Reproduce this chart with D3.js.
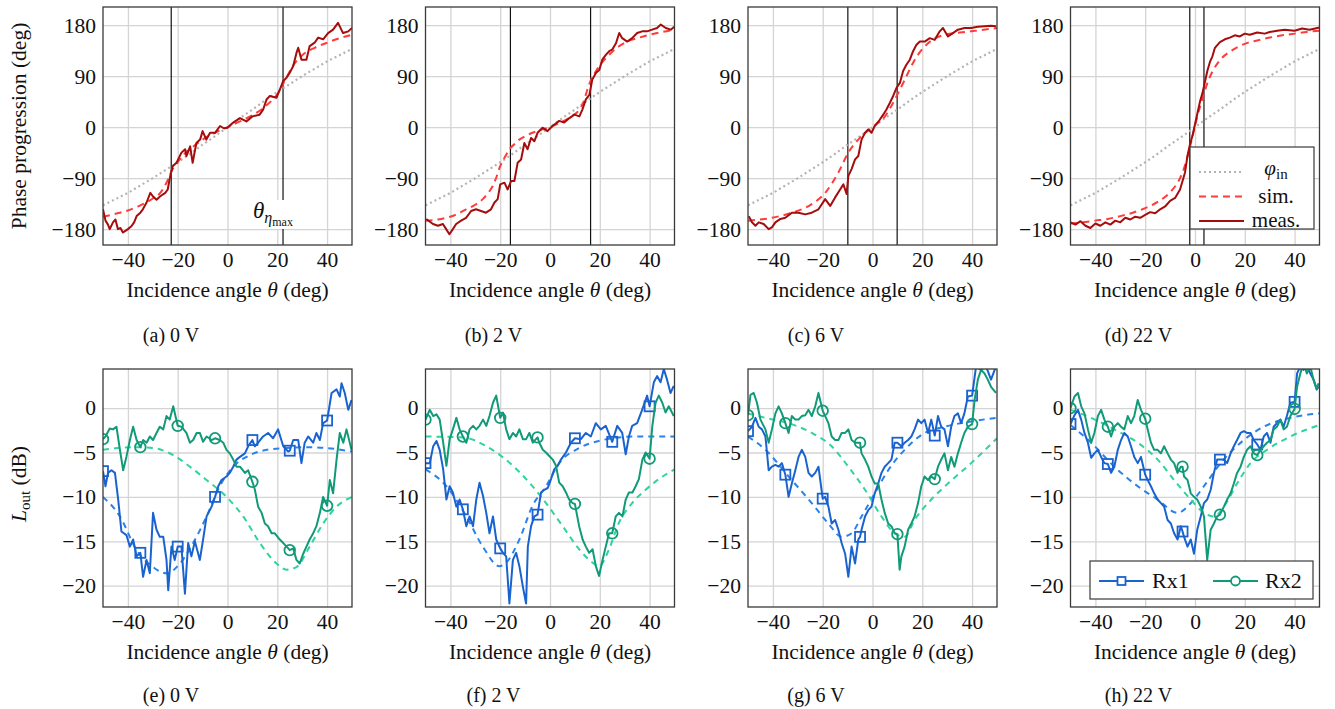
<!DOCTYPE html>
<html><head><meta charset="utf-8">
<script src="https://cdn.jsdelivr.net/npm/d3@7"></script>
<style>
body{margin:0;background:#fff}
svg{display:block}
</style>
</head><body>
<svg id="c" width="1335" height="709"></svg>
<script>
// ---------- axis ticks / labels ----------
const thetaTicks = [-40, -20, 0, 20, 40];
const phaseTicks = [-180, -90, 0, 90, 180];
const loutTicks = [-20, -15, -10, -5, 0];
const topLetters = ["(a)", "(b)", "(c)", "(d)"];
const bottomLetters = ["(e)", "(f)", "(g)", "(h)"];
const voltages = ["0 V", "2 V", "6 V", "22 V"];
const thetaEtaMax = [[-22.6, 22.3], [-15.9, 16.3], [-9.9, 9.9], [-2.1, 3.6]];

// ---------- top row: phase progression ----------
const phiInTheta = [-50,-45,-40,-35,-30,-25,-20,-15,-10,-5,0,5,10,15,20,25,30,35,40,45,50];
const phiIn = [-138,-127,-116,-103,-90,-76,-62,-47,-31,-16,0,16,31,47,62,76,90,103,116,127,138];

const simA = [[-50,-158],[-45,-153],[-40,-147],[-35,-138],[-30,-126],[-27,-116],[-24.5,-98],[-22,-74],[-20,-62],[-17,-46],[-14,-35],[-10,-22],[-5,-10],[0,0],[5,10],[10,21],[15,36],[18,48],[20,58],[22,74],[24,90],[26,106],[28,118],[30,127],[35,140],[40,149],[45,157],[50,163]];
const measA = [[-50,-145],[-49,-165],[-48,-172],[-47.3,-180],[-46,-168],[-45,-163],[-44,-180],[-43,-178],[-42,-186],[-41,-183],[-40,-180],[-38.6,-175],[-37.5,-168],[-36.5,-157],[-35,-151],[-34,-145],[-32.5,-133],[-31,-116],[-30,-122],[-28.5,-128],[-27,-122],[-25,-116],[-24,-110],[-23,-86],[-22,-69],[-20.5,-63],[-18.5,-45],[-17,-39],[-16.5,-51],[-15,-34],[-14,-63],[-12.5,-28],[-11,-22],[-10,-7],[-8.5,-22],[-7,-10],[-5,-10],[-3,2],[-1.5,-2],[0,-1],[2.3,8],[5,16],[7.6,10],[10,19],[12.9,22],[14.3,31],[15.7,49],[17,55],[19.7,52],[21,66],[22.3,81],[23.7,87],[25,96],[26.4,108],[27.7,131],[28.4,140],[29.7,119],[31.7,119],[33,143],[35,149],[36.4,158],[38.4,155],[40.4,166],[42.4,172],[44.4,184],[46.4,166],[48.5,169],[50,175]];

const simB = [[-50,-165],[-45,-163],[-41.7,-160],[-37,-153],[-33.7,-145],[-30,-137],[-27,-127],[-25,-117],[-23,-104],[-21.5,-88],[-20,-69],[-18,-52],[-16.3,-39],[-14,-29],[-12.3,-22],[-10,-16],[-7,-10],[-3,-4],[0,0],[3,6],[6.4,13],[9,20],[11.8,31],[13.5,45],[15,66],[16.5,84],[18.5,99],[20.5,112],[22.5,122],[25,133],[27.8,143],[31,151],[35.8,158],[40,163],[45,168],[50,172]];
const measB = [[-49.7,-162],[-47,-171],[-45,-174],[-43,-171],[-41.7,-180],[-40.4,-189],[-39,-180],[-37.7,-171],[-35.7,-165],[-33.7,-160],[-31.7,-148],[-29.7,-145],[-27.7,-148],[-25.7,-151],[-23.7,-145],[-22.3,-133],[-21,-127],[-20,-101],[-18.3,-98],[-17,-110],[-15.6,-95],[-14.3,-95],[-13,-63],[-11.6,-57],[-10.3,-28],[-9,-39],[-7.6,-19],[-6.3,-25],[-5,-10],[-3,-1],[-1,-7],[1,2],[3.7,11],[5.7,8],[7.8,16],[9.8,22],[11.8,19],[13,31],[14.4,49],[15.8,57],[17,84],[18.5,96],[19.8,101],[21,119],[22.5,128],[23.8,134],[25,137],[26.5,148],[27.8,166],[29,157],[31,151],[33,157],[35,166],[37,169],[39,169],[41,172],[43,175],[44.5,181],[46.5,175],[48.5,172],[49.9,177]];

const simC = [[-50,-165],[-40.4,-160],[-32.4,-151],[-24.4,-136],[-19,-116],[-13.7,-80],[-9.7,-45],[-4.4,-16],[0,0],[5,19],[9,49],[13,84],[17,119],[22.3,148],[29,163],[39.6,169],[50,175]];
const measC = [[-49.7,-157],[-48.4,-168],[-47,-174],[-45.7,-168],[-43.7,-171],[-41.7,-180],[-40.4,-177],[-39,-168],[-37,-162],[-35,-160],[-32.4,-151],[-29.7,-151],[-27,-154],[-24.4,-151],[-21.7,-145],[-19,-127],[-17,-139],[-15,-124],[-13,-110],[-11.7,-101],[-10.4,-118],[-9.7,-86],[-8.4,-74],[-7,-57],[-5.7,-51],[-4.4,-22],[-3,-10],[-1.7,-4],[-0.4,-10],[0.9,2],[2.9,13],[4.3,22],[5.6,31],[7,43],[8.3,55],[9.6,69],[11,78],[12.3,99],[13.6,110],[15,119],[16.3,134],[17.6,145],[19,151],[21,151],[23,157],[25,154],[27,169],[28.3,175],[30.3,160],[32.3,166],[34.3,172],[37,175],[39.6,175],[42.3,177],[45,178],[47.6,179],[49.6,178]];

const simD = [[-50,-170],[-45,-168],[-40,-165],[-35,-162],[-30,-157],[-25,-151],[-20,-143],[-15,-132],[-10,-115],[-7,-98],[-5,-80],[-3,-52],[-1,-16],[0,2],[1,20],[3,50],[5,78],[7,98],[10,118],[15,136],[20,147],[25,153],[30,158],[35,162],[40,165],[45,168],[50,170]];
const measD = [[-50,-168],[-48,-172],[-46,-166],[-44,-174],[-42,-178],[-40,-170],[-38,-174],[-36,-168],[-34,-172],[-32,-165],[-30,-168],[-28,-160],[-26,-163],[-24,-158],[-22,-160],[-20,-155],[-18,-150],[-16,-152],[-14,-145],[-12,-140],[-10,-130],[-8,-125],[-6,-110],[-4,-80],[-3,-50],[-2,-30],[-1,-15],[0,5],[1,25],[2,45],[3,60],[4,80],[5,100],[6,115],[7,125],[8,140],[10,150],[12,155],[14,158],[16,162],[18,160],[20,165],[22,163],[25,167],[28,165],[30,168],[33,170],[36,172],[40,170],[43,174],[46,172],[50,176]];

// ---------- bottom row: L_out (dB) ----------
const markTheta = [-50, -35, -20, -5, 10, 25, 40];
const rx1MarkE = [-7.1,-16.3,-15.6,-10,-3.6,-4.8,-1.4];
const rx2MarkE = [-3.5,-4.4,-2,-3.4,-8.3,-16,-11];
const rx1MarkF = [-6.2,-11.4,-15.8,-12,-3.4,-3.8,0.2];
const rx2MarkF = [-1.3,-3.2,-1.1,-3.3,-10.8,-14.1,-5.7];
const rx1MarkG = [-2.6,-7.5,-10.2,-14.5,-3.9,-3.1,1.4];
const rx2MarkG = [-0.8,-1.7,-0.3,-3.9,-14.2,-8,-1.8];
const rx1MarkH = [-1.8,-6.3,-7.5,-13.9,-5.8,-4.1,0.7];
const rx2MarkH = [0,-2.1,-1.2,-6.6,-12,-5.3,-0.1];

const rx1MeasE = [[-49,-8.8],[-48,-7.3],[-46.6,-7],[-45.2,-7.3],[-43.9,-10.3],[-42.6,-13.9],[-40.6,-14.3],[-39.2,-15.6],[-37.9,-14.8],[-36.5,-16.7],[-33.9,-19],[-32.5,-17.1],[-31.2,-18.6],[-29.9,-11.8],[-28.5,-13.7],[-27.2,-14.5],[-25.8,-14.5],[-24.5,-17.1],[-23.8,-20.5],[-22.5,-15.6],[-21.2,-17.1],[-18.5,-15.6],[-17.1,-20.9],[-15.8,-15.2],[-14.5,-16.7],[-13.1,-15],[-11.1,-17.1],[-9.8,-14.8],[-8.4,-12.2],[-6.4,-11.1],[-3.7,-8.8],[-2.4,-8.1],[-0.4,-7.7],[0.9,-7.3],[2.3,-6.6],[3.6,-5.8],[5,-5.5],[7,-5.1],[8.3,-4.3],[11,-4.3],[12.3,-3.9],[14.3,-3.2],[16.3,-2.8],[18.3,-3.4],[20.3,-2.4],[22.4,-4.3],[24.4,-4.9],[26.4,-3.6],[28.4,-3.6],[29.7,-6.2],[31,-3.9],[32.4,-3.2],[34.4,-3.9],[35.7,-2.8],[37.1,-3.6],[38.4,-1.7],[41.8,1.7],[43.8,2.1],[45.1,1.3],[45.8,2.8],[47.1,1.7],[48.5,-0.2],[49.8,0.9]];
const rx1SimE = [[-50,-10],[-43.2,-12.2],[-36.5,-16],[-29.9,-17.9],[-24.5,-18.6],[-19.1,-17.5],[-13.8,-15.2],[-8.4,-12.2],[-3.1,-8.8],[2.3,-6.6],[9,-5.3],[15.7,-4.7],[23.7,-4.5],[31.7,-4.4],[39.8,-4.5],[50,-4.9]];
const rx2MeasE = [[-49,-3.2],[-47.3,-2.3],[-46,-2.4],[-44.6,-2.1],[-43.2,-4.7],[-41.9,-7],[-40.6,-5.5],[-39.2,-3.6],[-37.9,-2.1],[-36.5,-3.6],[-33.9,-3.6],[-32.5,-3.9],[-31.2,-3.2],[-29.9,-3.6],[-28.5,-2.8],[-27.2,-2.1],[-25.8,-2.4],[-24.5,-0.9],[-23.2,-1.3],[-21.8,0.2],[-18.5,-2.1],[-16.5,-2.8],[-15.1,-3.9],[-13.8,-3.6],[-12.4,-2.8],[-11.1,-2.8],[-9.8,-3.8],[-8.4,-3.2],[-6.4,-3.6],[-3.1,-3.6],[-1.7,-3.9],[-0.4,-4.7],[0.9,-5.1],[2.3,-5.8],[3.6,-6.6],[5,-6.6],[7,-7.3],[8.3,-7],[11,-9.2],[12.3,-11.1],[13.7,-11.8],[15,-13],[16.3,-13.3],[17.7,-14.1],[19,-14.1],[21,-14.8],[22.4,-15.2],[24.4,-15.8],[26.4,-15.8],[27.7,-17.1],[29,-17.5],[30.4,-16.4],[31.7,-15.6],[33,-14.8],[34.4,-14.1],[35.7,-13.3],[37.1,-11.8],[38.4,-10],[41.1,-8.1],[42.4,-9.6],[43.8,-5.8],[45.1,-2.8],[46.5,-3.9],[47.8,-2.4],[49.8,-4.7]];
const rx2SimE = [[-50,-4.7],[-37.9,-4.4],[-29.9,-4.5],[-21.8,-5.3],[-15.1,-6.6],[-8.4,-8.1],[-0.4,-10],[6.3,-12.2],[13,-15.2],[19.7,-17.5],[23.7,-18.2],[27.7,-17.9],[33,-15.6],[38.4,-13],[43.8,-11.1],[50,-10]];

const rx1MeasF = [[-49.6,-4.7],[-48.3,-6.2],[-46.9,-4.3],[-45.6,-3.7],[-44.3,-4.7],[-42.9,-6.9],[-41.6,-10.3],[-40.3,-8.8],[-39,-9.5],[-37.6,-11.1],[-36.3,-10.3],[-33.6,-13.3],[-32.3,-12.2],[-30.9,-13.3],[-29.6,-10.3],[-28.3,-8.4],[-26.9,-9.9],[-25.6,-11.8],[-24.3,-14.1],[-22.9,-12.2],[-21.6,-14.8],[-18.9,-16.3],[-17.6,-16.7],[-16.3,-22],[-14.9,-17.1],[-13.6,-16.3],[-12.3,-17.8],[-10.9,-20.1],[-9.6,-22],[-8.9,-15.6],[-7.6,-13.3],[-6.3,-12.2],[-3.6,-9.5],[-2.3,-9.2],[-0.9,-9],[0.4,-8],[1.7,-6.9],[3.1,-6.5],[4.4,-5.8],[6.4,-5],[8.4,-3.9],[12.4,-3.5],[14.4,-2.8],[16.4,-3.2],[18.4,-1.7],[20.4,-2.4],[22.4,-2],[27,-2],[29,-2.8],[30.4,-5.2],[31.7,-3.2],[33,-2],[35,-1.7],[37,-0.2],[39,1.4],[41.7,2.9],[43,3.6],[44.4,2.9],[45.7,4.4],[47,3.2],[48.4,1.7],[49.7,2.5]];
const rx1SimF = [[-50,-6.9],[-41.6,-8.8],[-33.6,-12.2],[-27,-15.6],[-20.3,-17.8],[-17.6,-17.4],[-12.3,-14.8],[-7,-11],[-1.6,-8.8],[3.7,-6.2],[11.7,-4.5],[19.7,-3.7],[27.7,-3.3],[35.7,-3.2],[50,-3.2]];
const rx2MeasF = [[-48.3,-0.2],[-46.9,-0.9],[-45.6,-0.7],[-44.3,-1.3],[-42.9,-3.9],[-41.6,-6.5],[-40.3,-3.5],[-39,-2.4],[-37.6,-1.1],[-36.3,-2.4],[-33.6,-3.9],[-32.3,-2.4],[-30.9,-2],[-29.6,-2.4],[-28.3,-2],[-26.9,-1.3],[-25.6,-2],[-24.3,-0.9],[-22.9,0.6],[-21.6,1.4],[-18.9,-0.5],[-17.6,-2.4],[-16.3,-3.5],[-14.9,-2.8],[-13.6,-3.2],[-12.3,-2.4],[-10.9,-3.5],[-9.6,-3.5],[-8.3,-2.8],[-6.9,-3.9],[-4.3,-3.9],[-2.9,-4.7],[-1.6,-5],[-0.3,-5.4],[1.1,-5.8],[2.4,-6.5],[3.7,-8.4],[5.1,-8.8],[6.4,-9.5],[7.7,-10.3],[9.1,-10.7],[11.7,-13.3],[13.1,-14.8],[14.4,-15.6],[15.7,-16.3],[17.1,-15.9],[18.4,-17.8],[19.7,-18.9],[21.1,-17.1],[22.4,-15.6],[23.7,-14.1],[26.4,-12.2],[27.7,-11.8],[29.1,-12.2],[30.4,-10.3],[31.7,-9.5],[33.1,-9.5],[34.4,-8.8],[35.7,-8],[37.1,-5.8],[38.4,-5],[41.1,-2],[42.4,0.6],[43.7,1.4],[45.1,0.6],[46.4,-0.5],[47.7,0.2],[49.7,-0.9]];
const rx2SimF = [[-50,-3.2],[-34.9,-3.3],[-25.6,-4.3],[-14.9,-6.5],[-8.3,-8.4],[-1.6,-10.7],[5.1,-13.3],[11.7,-15.9],[17.1,-17.4],[19.7,-17.8],[23.7,-15.9],[27.7,-12.9],[33,-10.7],[38.4,-9.2],[43.7,-8],[50,-6.9]];

const rx1MeasG = [[-48.4,-2.1],[-47,-1.1],[-45.7,-2.1],[-44.4,-2.4],[-43,-3.2],[-41.7,-7],[-40.4,-6.6],[-39,-6.4],[-37.7,-6.6],[-36.4,-6.2],[-33.7,-10],[-32.4,-8.5],[-31,-7],[-29.7,-5.5],[-28.4,-4.7],[-27,-5.5],[-25.7,-7.3],[-24.4,-7.7],[-23,-7.3],[-21.7,-6.6],[-19,-10],[-17.7,-11.1],[-16.4,-13],[-15,-12.6],[-13.7,-13.7],[-12.4,-15.2],[-11,-16.4],[-9.7,-19],[-8.4,-15.6],[-7,-17.5],[-5.7,-14.8],[-4.4,-13.7],[-3,-12.2],[-1.7,-11.5],[-0.4,-11.1],[0.9,-9.6],[2.3,-8.5],[3.6,-7.3],[4.9,-6.6],[6.3,-6.2],[7.6,-5.8],[8.9,-3.9],[11.6,-4.3],[12.9,-3.9],[14.3,-3.6],[15.6,-3.2],[16.9,-2.4],[18.3,-1.3],[19.6,-1.7],[20.9,-1.3],[22.3,-2.8],[23.6,-1.3],[26.3,-0.9],[27.6,-2.1],[28.9,-2.4],[30.3,-4.3],[31.6,-2.1],[32.9,-0.9],[34.3,-0.6],[35.6,-1.7],[36.9,-0.6],[38.3,1.3],[41.6,4.7],[43.6,4.3],[45.6,4.7],[47.6,3.2],[49.6,4.7]];
const rx1SimG = [[-50,-3.2],[-43,-4.7],[-33.7,-7.7],[-24.4,-10.7],[-17.7,-13],[-12.4,-14.5],[-8.4,-14.1],[-4.4,-12.2],[0.9,-9.6],[6.3,-7],[12.9,-4.7],[20.9,-2.8],[28.9,-2.1],[39.6,-1.5],[50,-1.1]];
const rx2MeasG = [[-49,1.5],[-47.7,1.7],[-46.4,0.6],[-45,-1.3],[-43,-2.4],[-41.7,-3.9],[-40.4,-2.4],[-39,-0.6],[-37.7,0.2],[-36.4,-0.6],[-33.7,-2.8],[-32.4,-0.9],[-31,-1.3],[-29.7,-1.3],[-28.4,-0.9],[-27,-0.8],[-25.7,-0.2],[-24.4,-0.9],[-23,0.2],[-21.7,1.7],[-19,-0.9],[-17.7,-1.7],[-16.4,-3.2],[-15,-3.6],[-13.7,-3.6],[-12.4,-2.8],[-11,-2.8],[-9.7,-2.4],[-8.4,-3.6],[-7,-3.9],[-4.4,-5.1],[-3,-5.8],[-1.7,-6.6],[-0.4,-7.7],[0.9,-8.5],[2.3,-8.5],[3.6,-10.3],[4.9,-11.8],[6.3,-13],[7.6,-13.3],[8.9,-14.1],[10.9,-18.2],[11.6,-16.7],[12.9,-15.6],[14.3,-13.7],[15.6,-13],[16.9,-12.2],[18.3,-10.7],[19.6,-8.8],[20.9,-7.7],[22.3,-8.1],[23.6,-7.7],[26.3,-6.6],[27.6,-5.8],[28.9,-5.1],[30.3,-7],[31.6,-5.5],[32.9,-6.6],[34.3,-5.1],[35.6,-3.9],[36.9,-2.8],[38.3,-2.1],[41,0.9],[42.3,3.2],[43.6,4.3],[45,3.9],[46.3,3.2],[47.6,2.4],[49.6,1.7]];
const rx2SimG = [[-50,-0.6],[-43,-1.1],[-33.7,-1.7],[-24.4,-2.8],[-16.4,-4.3],[-9.7,-6.6],[-3,-9.2],[3.6,-12.2],[8.9,-14.1],[12.9,-14.5],[16.9,-12.6],[23.6,-10.3],[30.3,-8.5],[39.6,-6.2],[50,-3.4]];

const rx1MeasH = [[-48.4,-0.8],[-47,-0.2],[-45.7,-1.3],[-44.4,-2.8],[-43,-3.9],[-41.7,-5.6],[-40.4,-5.1],[-39,-4.7],[-37.7,-5.5],[-36.4,-6.2],[-33.7,-7.3],[-32.4,-6.6],[-31,-4.7],[-29.7,-3.6],[-28.4,-2.8],[-27,-3.2],[-25.7,-4.3],[-24.4,-5.5],[-23,-6.2],[-21.7,-5.5],[-19,-8.1],[-17.7,-8.8],[-16.4,-9.6],[-15,-10.3],[-13.7,-10.7],[-12.4,-11.1],[-11,-12.6],[-9.7,-13],[-8.4,-14.1],[-7,-14.8],[-5.7,-13.3],[-4.4,-14.5],[-3,-15.6],[-1.7,-14.8],[-0.4,-16.4],[0.9,-13.7],[2.3,-12.2],[3.6,-10.7],[4.9,-10.3],[6.3,-9.2],[7.6,-7.3],[8.9,-5.8],[11.6,-5.8],[12.9,-6.2],[14.3,-5.1],[15.6,-4.3],[16.9,-3.6],[18.3,-2.8],[19.6,-2.6],[20.9,-2.8],[22.3,-2.8],[23.6,-3.6],[26.3,-4.7],[27.6,-3.2],[28.9,-2.8],[30.3,-3.9],[31.6,-2.1],[32.9,-1.7],[34.3,-1.3],[35.6,-2.1],[36.9,-0.9],[38.3,0.6],[41,3.9],[42.3,4.7],[43.6,4.3],[44.9,4.7],[46.3,3.9],[47.6,3.2],[48.9,2.1],[49.6,2.4]];
const rx1SimH = [[-50,-1.9],[-41.7,-3.9],[-32.4,-6.6],[-23,-8.8],[-15,-10.3],[-7,-11.8],[-1.7,-10.7],[3.6,-8.8],[10.3,-6.2],[19.6,-3.6],[27.6,-2.1],[38.3,-1.1],[50,-0.6]];
const rx2MeasH = [[-48.4,1.3],[-47,1.7],[-45.7,0.2],[-44.4,-0.6],[-43,-2.4],[-41.7,-3.9],[-40.4,-2.8],[-39,-0.9],[-37.7,-0.2],[-36.4,-1.3],[-33.7,-3.2],[-32.4,-2.1],[-31,-1.7],[-29.7,-2.1],[-28.4,-2.4],[-27,-0.9],[-25.7,-1.7],[-24.4,-0.9],[-23,0.9],[-21.7,-0.2],[-19,-2.4],[-17.7,-3.9],[-16.4,-4.7],[-15,-4.7],[-13.7,-5.1],[-12.4,-4.3],[-11,-5.1],[-9.7,-5.8],[-8.4,-6.2],[-7,-7.3],[-5.7,-6.6],[-4.4,-7.7],[-3,-8.1],[-1.7,-9.6],[-0.4,-10],[0.9,-10.3],[2.3,-11.1],[3.6,-12.2],[4.9,-17.1],[6.3,-13.7],[7.6,-13],[8.9,-12.2],[11.6,-11.1],[12.9,-10.3],[14.3,-9.6],[15.6,-8.5],[16.9,-7.3],[18.3,-6.6],[19.6,-5.5],[20.9,-4.7],[22.3,-4.3],[23.6,-5.1],[26.3,-4.7],[27.6,-4.3],[28.9,-3.9],[30.3,-3.6],[31.6,-2.4],[32.9,-2.1],[34.3,-1.3],[35.6,-2.4],[36.9,-2.1],[38.3,-0.9],[41,2.4],[42.3,3.9],[43.6,5.1],[44.9,3.9],[46.3,4.7],[47.6,3.2],[48.9,2.1],[49.6,2.8]];
const rx2SimH = [[-50,-0.2],[-41.7,-1.1],[-32.4,-2.4],[-23,-3.9],[-15,-5.8],[-8.4,-8.1],[-1.7,-10.3],[3.6,-11.8],[7.6,-12.2],[11.6,-11.1],[16.9,-8.5],[22.3,-6.2],[28.9,-4.7],[38.3,-3.2],[50,-1.9]];

// ---------- styling ----------
const SERIF = "'Liberation Serif', 'Times New Roman', Times, serif";
const C = {
  grid: "#d4d4d4", frame: "#3a3a3a",
  phiIn: "#b4b4b4", sim: "#ff3b3b", meas: "#a50d0d",
  rx1: "#1a63cf", rx1Sim: "#2b82ea", rx2: "#119a78", rx2Sim: "#2fd3a0"
};
const FS = 21.5;
const W = 249;
const lefts = [0,1,2,3].map(i => 103 + i * 322.5);
const rows = [{y0: 7, y1: 245}, {y0: 369, y1: 607}];

const svg = d3.select("#c");
const xScales = lefts.map(L => d3.scaleLinear().domain([-50, 50]).range([L, L + W]));
const yTop = d3.scaleLinear().domain([-208, 212]).range([rows[0].y1, rows[0].y0]);
const yBot = d3.scaleLinear().domain([-22.4, 4.4]).range([rows[1].y1, rows[1].y0]);
const fmt = d => d3.format("")(d);

function withMarks(meas, marks) {
  const pts = marks.map((v, i) => [markTheta[i], v]);
  const kept = meas.filter(p => !markTheta.some(t => Math.abs(t - p[0]) < 0.4));
  return kept.concat(pts).sort((a, b) => a[0] - b[0]);
}

function drawFrame(g, x, y, yTicks, row, idx) {
  const r = rows[row];
  g.append("g").attr("transform", `translate(0,${r.y1})`)
    .call(d3.axisBottom(x).tickValues(thetaTicks).tickSize(-(r.y1 - r.y0)).tickFormat(""))
    .call(a => a.select(".domain").remove())
    .call(a => a.selectAll("line").attr("stroke", C.grid).attr("stroke-width", 1.3));
  g.append("g").attr("transform", `translate(${x.range()[0]},0)`)
    .call(d3.axisLeft(y).tickValues(yTicks).tickSize(-W).tickFormat(""))
    .call(a => a.select(".domain").remove())
    .call(a => a.selectAll("line").attr("stroke", C.grid).attr("stroke-width", 1.3));
  g.append("clipPath").attr("id", "clip" + row + idx)
    .append("rect").attr("x", x.range()[0]).attr("y", r.y0).attr("width", W).attr("height", r.y1 - r.y0);
}

function drawAxes(g, x, y, yTicks, row) {
  const r = rows[row];
  g.append("g").attr("transform", `translate(0,${r.y1})`)
    .call(d3.axisBottom(x).tickValues(thetaTicks).tickSize(0).tickPadding(7).tickFormat(fmt))
    .call(a => a.select(".domain").remove())
    .call(a => a.selectAll("text").attr("font-size", FS).attr("fill", "#111"));
  g.append("g").attr("transform", `translate(${x.range()[0]},0)`)
    .call(d3.axisLeft(y).tickValues(yTicks).tickSize(0).tickPadding(7).tickFormat(fmt))
    .call(a => a.select(".domain").remove())
    .call(a => a.selectAll("text").attr("font-size", FS).attr("fill", "#111"));
  g.append("rect").attr("x", x.range()[0]).attr("y", r.y0).attr("width", W).attr("height", r.y1 - r.y0)
    .attr("fill", "none").attr("stroke", C.frame).attr("stroke-width", 1.3);
  const t = g.append("text").attr("x", (x.range()[0] + x.range()[1]) / 2).attr("y", r.y1 + 52)
    .attr("text-anchor", "middle").attr("font-size", FS);
  t.append("tspan").text("Incidence angle ");
  t.append("tspan").attr("font-style", "italic").text("θ");
  t.append("tspan").text(" (deg)");
}

function caption(g, i, row, letters) {
  g.append("text").attr("x", lefts[i] + 68).attr("y", rows[row].y1 + (row === 0 ? 97 : 95))
    .attr("text-anchor", "middle").attr("font-size", 20)
    .text(letters[i] + " " + voltages[i]);
}

// ---------- top row ----------
const measTop = [measA, measB, measC, measD];
const simTop = [simA, simB, simC, simD];
measTop.forEach((meas, i) => {
  const x = xScales[i], y = yTop;
  const g = svg.append("g");
  drawFrame(g, x, y, phaseTicks, 0, i);
  const cg = g.append("g").attr("clip-path", `url(#clip0${i})`);
  cg.selectAll("line.tm").data(thetaEtaMax[i]).join("line")
    .attr("x1", d => x(d)).attr("x2", d => x(d)).attr("y1", rows[0].y0).attr("y2", rows[0].y1)
    .attr("stroke", "#111").attr("stroke-width", 1.2);
  const line = d3.line().x(d => x(d[0])).y(d => y(d[1]));
  const smooth = d3.line().x(d => x(d[0])).y(d => y(d[1])).curve(d3.curveMonotoneX);
  cg.append("path").datum(phiInTheta.map((t, k) => [t, phiIn[k]])).attr("d", smooth)
    .attr("fill", "none").attr("stroke", C.phiIn).attr("stroke-width", 2.2).attr("stroke-dasharray", "2,3");
  cg.append("path").datum(simTop[i]).attr("d", smooth)
    .attr("fill", "none").attr("stroke", C.sim).attr("stroke-width", 2).attr("stroke-dasharray", "7,5");
  cg.append("path").datum(meas).attr("d", line)
    .attr("fill", "none").attr("stroke", C.meas).attr("stroke-width", 2).attr("stroke-linejoin", "round");
  drawAxes(g, x, y, phaseTicks, 0);
  caption(g, i, 0, topLetters);
});

// theta_eta_max annotation in (a)
{
  const g = svg.append("g");
  const t = g.append("text").attr("x", 253).attr("y", 218).attr("font-size", 23);
  t.append("tspan").attr("font-style", "italic").text("θ");
  t.append("tspan").attr("font-style", "italic").attr("font-size", 16).attr("dy", 5).text("η");
  t.append("tspan").attr("font-size", 12).attr("dy", 3).text("max");
  t.style("font-family", SERIF);
  const bb = t.node().getBBox();
  g.insert("rect", "text").attr("x", bb.x - 2).attr("y", bb.y + 2).attr("width", bb.width + 4).attr("height", bb.height - 2)
    .attr("fill", "#fff");
}

// legend (d)
{
  const g = svg.append("g");
  g.append("rect").attr("x", 1190).attr("y", 147).attr("width", 124).attr("height", 82)
    .attr("fill", "#fff").attr("stroke", C.frame).attr("stroke-width", 1.2);
  const items = [
    {c: C.phiIn, da: "2,3", w: 2.2, label: "phi"},
    {c: C.sim, da: "7,5", w: 2, label: "sim."},
    {c: C.meas, da: null, w: 2, label: "meas."}
  ];
  items.forEach((it, k) => {
    const yy = 172 + k * 24.5;
    g.append("line").attr("x1", 1199).attr("x2", 1244).attr("y1", yy).attr("y2", yy)
      .attr("stroke", it.c).attr("stroke-width", it.w).attr("stroke-dasharray", it.da);
    const t = g.append("text").attr("x", 1276).attr("y", yy + 6).attr("font-size", 21).attr("text-anchor", "middle");
    if (it.label === "phi") {
      t.attr("y", yy + 3);
      t.append("tspan").attr("font-style", "italic").text("φ");
      t.append("tspan").attr("font-size", 15).attr("dy", 4).text("in");
    } else t.text(it.label);
  });
}

// ---------- bottom row ----------
const bottomSets = [
  {m1: rx1MeasE, s1: rx1SimE, k1: rx1MarkE, m2: rx2MeasE, s2: rx2SimE, k2: rx2MarkE},
  {m1: rx1MeasF, s1: rx1SimF, k1: rx1MarkF, m2: rx2MeasF, s2: rx2SimF, k2: rx2MarkF},
  {m1: rx1MeasG, s1: rx1SimG, k1: rx1MarkG, m2: rx2MeasG, s2: rx2SimG, k2: rx2MarkG},
  {m1: rx1MeasH, s1: rx1SimH, k1: rx1MarkH, m2: rx2MeasH, s2: rx2SimH, k2: rx2MarkH}
];
bottomSets.forEach((s, i) => {
  const x = xScales[i], y = yBot;
  const g = svg.append("g");
  drawFrame(g, x, y, loutTicks, 1, i);
  const cg = g.append("g").attr("clip-path", `url(#clip1${i})`);
  const line = d3.line().x(d => x(d[0])).y(d => y(d[1]));
  const smooth = d3.line().x(d => x(d[0])).y(d => y(d[1])).curve(d3.curveMonotoneX);
  const series = [
    {m: withMarks(s.m1, s.k1), sim: s.s1, k: s.k1, c: C.rx1, cs: C.rx1Sim, mk: "sq"},
    {m: withMarks(s.m2, s.k2), sim: s.s2, k: s.k2, c: C.rx2, cs: C.rx2Sim, mk: "ci"}
  ];
  series.forEach(se => {
    cg.append("path").datum(se.sim).attr("d", smooth)
      .attr("fill", "none").attr("stroke", se.cs).attr("stroke-width", 2).attr("stroke-dasharray", "6,5");
  });
  series.forEach(se => {
    cg.append("path").datum(se.m).attr("d", line)
      .attr("fill", "none").attr("stroke", se.c).attr("stroke-width", 2).attr("stroke-linejoin", "round");
    const pts = se.k.map((v, k) => [markTheta[k], v]);
    if (se.mk === "sq") {
      cg.selectAll(null).data(pts).join("rect")
        .attr("x", d => x(d[0]) - 5).attr("y", d => y(d[1]) - 5).attr("width", 10).attr("height", 10)
        .attr("fill", "none").attr("stroke", se.c).attr("stroke-width", 1.8);
    } else {
      cg.selectAll(null).data(pts).join("circle")
        .attr("cx", d => x(d[0])).attr("cy", d => y(d[1])).attr("r", 5.3)
        .attr("fill", "none").attr("stroke", se.c).attr("stroke-width", 1.8);
    }
  });
  drawAxes(g, x, y, loutTicks, 1);
  caption(g, i, 1, bottomLetters);
});

// legend (h)
{
  const g = svg.append("g");
  g.append("rect").attr("x", 1090).attr("y", 561).attr("width", 223).attr("height", 38)
    .attr("fill", "#fff").attr("stroke", C.frame).attr("stroke-width", 1.2);
  const yy = 581;
  [[1099, 1144, C.rx1, "Rx1", 1152, "sq"], [1213, 1258, C.rx2, "Rx2", 1265, "ci"]].forEach(e => {
    g.append("line").attr("x1", e[0]).attr("x2", e[1]).attr("y1", yy).attr("y2", yy)
      .attr("stroke", e[2]).attr("stroke-width", 2);
    const cx = (e[0] + e[1]) / 2;
    if (e[5] === "sq") g.append("rect").attr("x", cx - 4).attr("y", yy - 4).attr("width", 8).attr("height", 8)
      .attr("fill", "#fff").attr("stroke", e[2]).attr("stroke-width", 1.8);
    else g.append("circle").attr("cx", cx).attr("cy", yy).attr("r", 4.5)
      .attr("fill", "#fff").attr("stroke", e[2]).attr("stroke-width", 1.8);
    g.append("text").attr("x", e[4]).attr("y", yy + 7).attr("font-size", 22).text(e[3]);
  });
}

// y axis titles
svg.append("text").attr("transform", "translate(26,126) rotate(-90)")
  .attr("text-anchor", "middle").attr("font-size", FS).text("Phase progression (deg)");
{
  const t = svg.append("text").attr("transform", "translate(26,484) rotate(-90)")
    .attr("text-anchor", "middle").attr("font-size", FS);
  t.append("tspan").attr("font-style", "italic").text("L");
  t.append("tspan").attr("font-size", 15).attr("dy", 4).text("out");
  t.append("tspan").attr("dy", -4).text(" (dB)");
}

// force serif everywhere (axis groups set sans-serif by default)
svg.selectAll("g").attr("font-family", null);
svg.selectAll("text").style("font-family", SERIF).style("fill", "#111");
</script>
</body></html>
